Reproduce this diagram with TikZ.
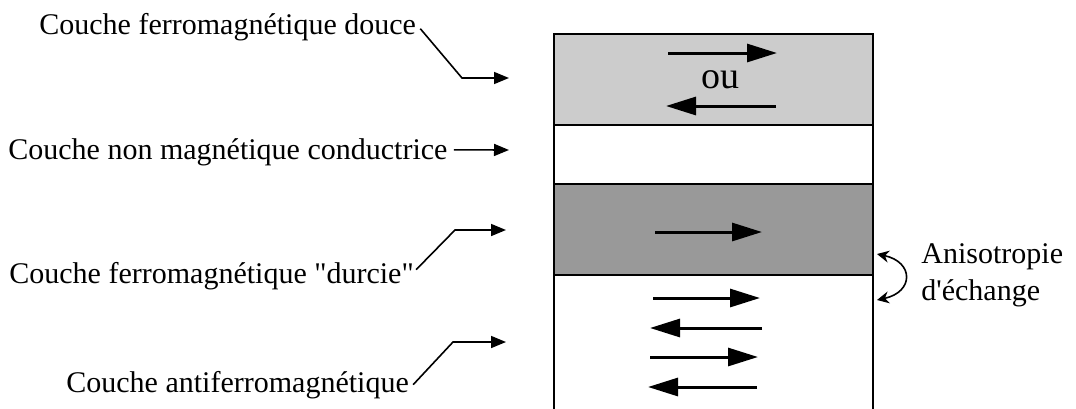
\documentclass[tikz,border=0pt]{standalone}
\usepackage{fontspec}
\setmainfont{Liberation Serif}
\newfontfamily\rawserif{Liberation Serif}
\usetikzlibrary{arrows.meta}
\begin{document}
\begin{tikzpicture}[x=0.5pt,y=-0.5pt,
  lbl/.style={inner sep=0pt,anchor=base west,font=\rawserif\fontsize{15}{18}\selectfont},
  layer/.style={draw=black,line width=1pt},
  spin/.style={line width=1.5pt,-{Triangle[length=15pt,width=9pt]}},
  lead/.style={line width=0.8pt,-{Triangle[length=7.5pt,width=6pt]}},
  exch/.style={line width=0.8pt,{Stealth[length=6pt,width=6pt]}-{Stealth[length=6pt,width=6pt]}}]
\useasboundingbox (0,0) rectangle (1076,408);
% layers
\fill[gray!40!white] (554,34) rectangle (873,125);
\fill[white] (554,125) rectangle (873,184);
\fill[gray!80!white] (554,184) rectangle (873,275);
\draw[layer] (554,410) -- (554,34) -- (873,34) -- (873,410);
\draw[layer] (554,125) -- (873,125);
\draw[layer] (554,184) -- (873,184);
\draw[layer] (554,275) -- (873,275);
% spins soft layer
\coordinate (s1a) at (668,53); \coordinate (s1b) at (777,53);
\draw[spin] (s1a) -- (s1b);
\node[inner sep=0pt,anchor=base,font=\rawserif\fontsize{19}{22}\selectfont] (ou) at (720,88) {ou};
\coordinate (s2a) at (776,106); \coordinate (s2b) at (666,106);
\draw[spin] (s2a) -- (s2b);
% hard layer
\coordinate (h1a) at (655,232); \coordinate (h1b) at (762,232);
\draw[spin] (h1a) -- (h1b);
% antiferro
\coordinate (a1a) at (653,298); \coordinate (a1b) at (760,298);
\coordinate (a2a) at (762,328); \coordinate (a2b) at (650,328);
\coordinate (a3a) at (650,357); \coordinate (a3b) at (758,357);
\coordinate (a4a) at (757,387); \coordinate (a4b) at (648,387);
\draw[spin] (a1a) -- (a1b);
\draw[spin] (a2a) -- (a2b);
\draw[spin] (a3a) -- (a3b);
\draw[spin] (a4a) -- (a4b);
% labels
\node[lbl] (l1) at (39,34) {Couche ferromagnétique douce};
\node[lbl] (l2) at (8,159) {Couche non magnétique conductrice};
\node[lbl] (l3) at (9,283) {Couche ferromagnétique "durcie"};
\node[lbl] (l4) at (66,392) {Couche antiferromagnétique};
\coordinate (t1) at (509,78);
\coordinate (t2) at (509,150);
\coordinate (t3) at (506,230);
\coordinate (t4) at (506,342);
\draw[lead] ([xshift=2pt,yshift=-1pt]l1.east) -- (462,78) -- (t1);
\draw[lead] ([xshift=3pt,yshift=1pt]l2.east) -- (t2);
\draw[lead] ([xshift=1pt,yshift=3pt]l3.east) -- (455,230) -- (t3);
\draw[lead] ([xshift=2pt,yshift=0pt]l4.east) -- (453,342) -- (t4);
% exchange anisotropy
\coordinate (e1) at (877,254);
\coordinate (e2) at (877,300);
\draw[exch] (e1) .. controls (914,262) and (914,292) .. (e2);
\node[lbl] (an) at (921,263) {Anisotropie};
\node[lbl] (de) at (921,300) {d'échange};
\end{tikzpicture}
\end{document}
